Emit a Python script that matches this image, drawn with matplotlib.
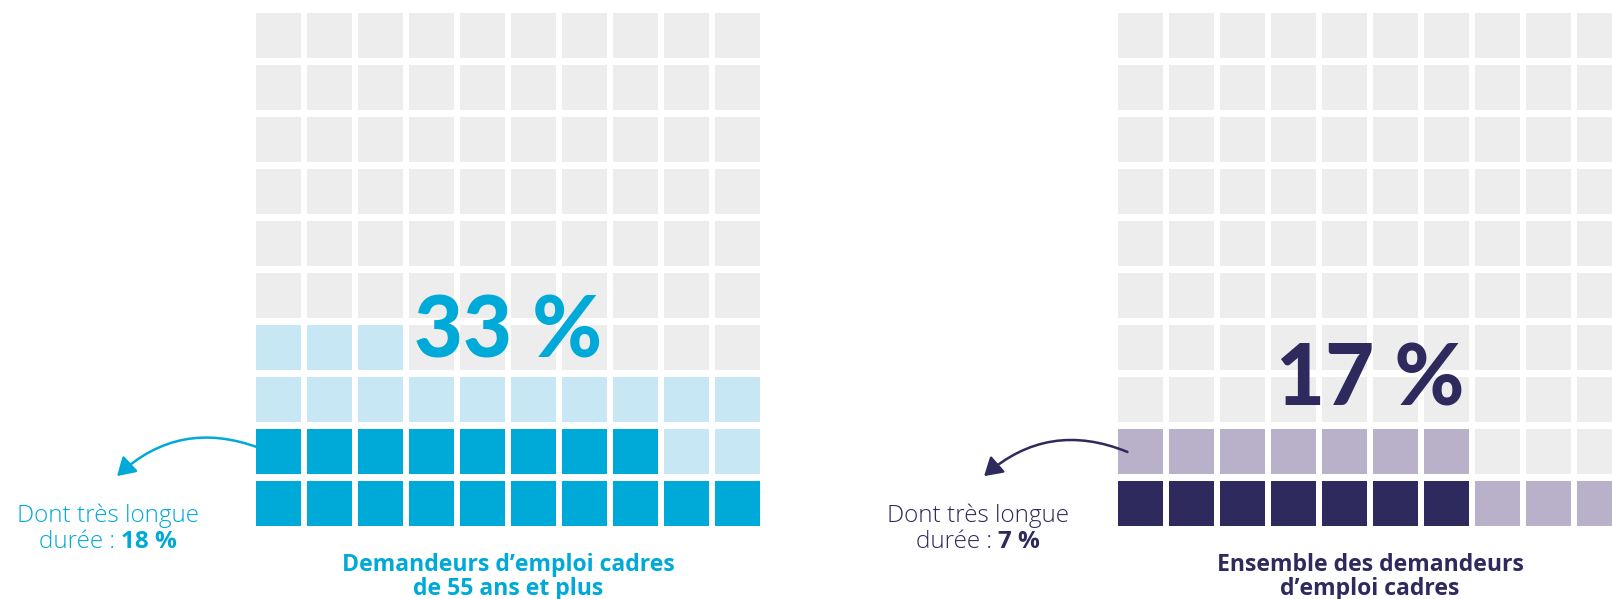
import matplotlib
matplotlib.use("Agg")
import matplotlib.pyplot as plt
from matplotlib.patches import Rectangle, FancyArrowPatch

# --- Data ---
panel_titles = ["Demandeurs d’emploi cadres\nde 55 ans et plus",
                "Ensemble des demandeurs\nd’emploi cadres"]
total_pct = [33, 17]          # share of job seekers, one square = 1 %
long_term_pct = [18, 7]       # of which very long-term unemployment

# --- Styles ---
dark_colors = ["#00AAD8", "#2E2A5D"]
light_colors = ["#C8E7F4", "#B9B1C9"]
empty_color = "#EDEDED"
grid_left = [256, 1118]       # pixel x of the first column
grid_top = 13
cell_w, cell_h = 45, 45
step_x, step_y = 51, 52
n_cols, n_rows = 10, 10
big_baseline = [357, 406]     # baseline of the big percentage in each panel

W, H = 1612, 599
fig = plt.figure(figsize=(W / 100, H / 100), dpi=100)
ax = fig.add_axes([0, 0, 1, 1])
ax.set_xlim(0, W)
ax.set_ylim(H, 0)
ax.axis("off")

NUM_FONT = "Lato"
TXT_FONT = "Open Sans"

for p in range(2):
    x0 = grid_left[p]
    # squares are filled row by row, starting from the bottom-left corner
    for k in range(n_cols * n_rows):
        row = k // n_cols
        col = k % n_cols
        if k < long_term_pct[p]:
            c = dark_colors[p]
        elif k < total_pct[p]:
            c = light_colors[p]
        else:
            c = empty_color
        x = x0 + col * step_x
        y = grid_top + (n_rows - 1 - row) * step_y
        ax.add_patch(Rectangle((x, y), cell_w, cell_h, facecolor=c, edgecolor="none", zorder=1))

    cx = x0 + ((n_cols - 1) * step_x + cell_w) / 2
    ax.text(cx, big_baseline[p], f"{total_pct[p]} %", ha="center", va="baseline",
            fontsize=61, fontweight="black", color=dark_colors[p],
            family=NUM_FONT, zorder=3)

    # panel title under the grid
    line1, line2 = panel_titles[p].split("\n")
    ax.text(cx, 571, line1, ha="center", va="baseline",
            fontsize=16.6, fontweight="bold", color=dark_colors[p], family=TXT_FONT)
    ax.text(cx, 595, line2, ha="center", va="baseline",
            fontsize=16.6, fontweight="bold", color=dark_colors[p], family=TXT_FONT)

# side notes with curved arrows
note_x = [108, 978]
arrow_start = [(262, 449), (1130, 453)]
arrow_end = [(115, 478), (982, 478)]
fig.canvas.draw()
r = fig.canvas.get_renderer()
for p in range(2):
    arr = FancyArrowPatch(arrow_start[p], arrow_end[p],
                          connectionstyle="arc3,rad=0.32",
                          arrowstyle="-|>,head_length=0.9,head_width=0.55",
                          mutation_scale=12, lw=1.8, color=dark_colors[p],
                          zorder=4)
    ax.add_patch(arr)
    ax.text(note_x[p], 522, "Dont très longue", ha="center", va="baseline",
            fontsize=17.5, fontweight="light", color=dark_colors[p], family=TXT_FONT)
    # second line: light label followed by the bold value
    lbl = ax.text(0, 548, "durée : ", ha="left", va="baseline", fontsize=17.5,
                  fontweight="light", color=dark_colors[p], family=TXT_FONT)
    val = ax.text(0, 548, f"{long_term_pct[p]} %", ha="left", va="baseline",
                  fontsize=17.5, fontweight="bold", color=dark_colors[p], family=TXT_FONT)
    w1 = lbl.get_window_extent(r).width
    w2 = val.get_window_extent(r).width
    left = note_x[p] - (w1 + w2) / 2
    lbl.set_x(left)
    val.set_x(left + w1)

fig.savefig("out.png", dpi=100)
